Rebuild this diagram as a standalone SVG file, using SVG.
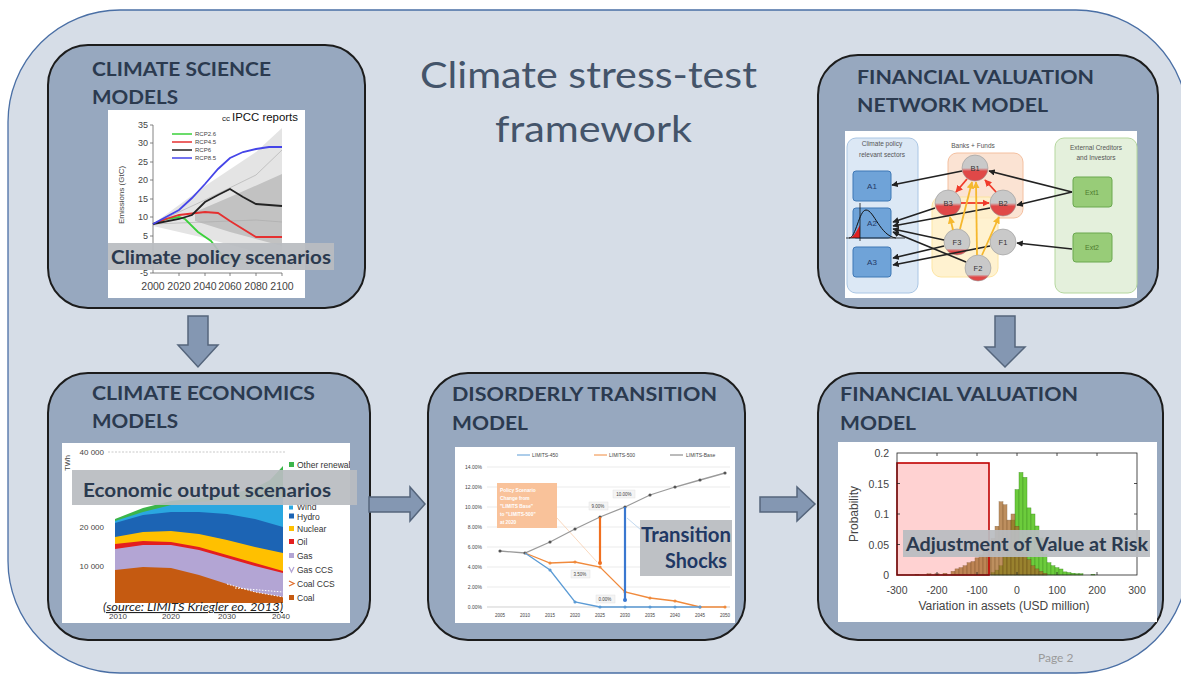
<svg xmlns="http://www.w3.org/2000/svg" width="1181" height="675" viewBox="0 0 1181 675">
<style>
.box{fill:#97a8bf;stroke:#1c1c1c;stroke-width:2}
.ttl{font-family:Lato,"Liberation Sans",sans-serif;font-weight:bold;font-size:19px;fill:#2b3a4f}
.big{font-family:Lato,"Liberation Sans",sans-serif;font-size:37px;fill:#44546a}
.img{fill:#ffffff}
.lbl{fill:#b9bcc1;opacity:0.93}
.lt{font-family:Lato,"Liberation Sans",sans-serif;font-weight:bold;font-size:19px;fill:#2b3a4f}
.blk{fill:#8497b2;stroke:#55657c;stroke-width:1.5}
.ax{font-family:"Liberation Sans",Arial,sans-serif;fill:#444}
.s6{font-size:6px}
.s9{font-size:9px}
.nt{font-family:"Liberation Sans",Arial,sans-serif;font-size:6.5px;fill:#555;text-anchor:middle}
.na{stroke:#222;stroke-width:1.6;fill:none;marker-end:url(#ak)}
.nr{stroke:#f03a2a;stroke-width:1.8;fill:none;marker-end:url(#ar)}
.no{stroke:#f5b82e;stroke-width:1.8;fill:none;marker-end:url(#ao)}
.ab{fill:#6fa3d8;stroke:#3f78b5;stroke-width:1}
.eb{fill:#98cc78;stroke:#6aa84f;stroke-width:1}
.bt{font-family:"Liberation Sans",Arial,sans-serif;font-size:8px;fill:#1f3864;text-anchor:middle}
.et{font-family:"Liberation Sans",Arial,sans-serif;font-size:7px;fill:#4e7a2e;text-anchor:middle}
.ct{font-family:"Liberation Sans",Arial,sans-serif;font-size:7.5px;fill:#333;text-anchor:middle}
.g{stroke:#e3e3e3;stroke-width:0.7}
.gb{fill:#6ccc3c;stroke:#3f8a22;stroke-width:0.4}
.bb{fill:#a86a2a;opacity:0.75;stroke:#6b4215;stroke-width:0.4}
.leg{font-family:"Liberation Sans",Arial,sans-serif;font-size:8.5px;fill:#333}
</style>
<defs>
<marker id="ak" viewBox="0 0 10 10" refX="9" refY="5" markerWidth="4" markerHeight="4" orient="auto"><path d="M0,0 L10,5 L0,10 z" fill="#222"/></marker>
<marker id="ar" viewBox="0 0 10 10" refX="9" refY="5" markerWidth="4" markerHeight="4" orient="auto"><path d="M0,0 L10,5 L0,10 z" fill="#f03a2a"/></marker>
<marker id="ao" viewBox="0 0 10 10" refX="9" refY="5" markerWidth="4" markerHeight="4" orient="auto"><path d="M0,0 L10,5 L0,10 z" fill="#f5b82e"/></marker>
<marker id="mk" viewBox="0 0 10 10" refX="5" refY="5" markerWidth="3" markerHeight="3"><circle cx="5" cy="5" r="4" fill="#555"/></marker>
<marker id="mo" viewBox="0 0 10 10" refX="5" refY="5" markerWidth="3" markerHeight="3"><circle cx="5" cy="5" r="4" fill="#f08a3c"/></marker>
<marker id="mb" viewBox="0 0 10 10" refX="5" refY="5" markerWidth="3" markerHeight="3"><circle cx="5" cy="5" r="4" fill="#5b9bd5"/></marker>
<linearGradient id="gB" x1="0" y1="0" x2="0" y2="1"><stop offset="0" stop-color="#c9c9c9"/><stop offset="0.5" stop-color="#c9c9c9"/><stop offset="0.62" stop-color="#e04848"/><stop offset="1" stop-color="#e04848"/></linearGradient>
<linearGradient id="gF" x1="0" y1="0" x2="0" y2="1"><stop offset="0" stop-color="#c9c9c9"/><stop offset="0.75" stop-color="#c9c9c9"/><stop offset="0.85" stop-color="#e04848"/><stop offset="1" stop-color="#e04848"/></linearGradient>
<clipPath id="ecoClip"><rect x="62" y="443" width="288" height="180"/></clipPath>
</defs>

<rect id="frame" x="8" y="10" width="1180" height="663" rx="112" ry="112" fill="#d6dde7" stroke="#4a6fa5" stroke-width="1.3"/>

<g id="title">
<text class="big" x="420" y="88" textLength="337" lengthAdjust="spacingAndGlyphs">Climate stress-test</text>
<text class="big" x="495" y="142" textLength="197" lengthAdjust="spacingAndGlyphs">framework</text>
</g>

<!-- Climate science models -->
<g id="climate-science">
<rect class="box" x="48" y="45" width="317" height="263" rx="40"/>
<text class="ttl" x="92" y="76" textLength="179" lengthAdjust="spacingAndGlyphs">CLIMATE SCIENCE</text>
<text class="ttl" x="92" y="104" textLength="86" lengthAdjust="spacingAndGlyphs">MODELS</text>
<rect class="img" x="108" y="110" width="197" height="188"/>
<polygon points="153,224 205,186 256,152 282,128 282,258 256,252 205,238 153,226" fill="#e4e4e4"/>
<polygon points="195,212 230,197 282,174 282,246 230,232 195,221" fill="#c2c2c2"/>
<polyline points="153,224 205,200 256,175 282,150" fill="none" stroke="#aaa" stroke-width="0.6"/>
<polyline points="153,224 205,222 256,220 282,222" fill="none" stroke="#aaa" stroke-width="0.6"/>
<line x1="153" y1="125" x2="153" y2="273" stroke="#666" stroke-width="0.8"/>
<line x1="153" y1="273" x2="282" y2="273" stroke="#666" stroke-width="0.8"/>
<g stroke="#666" stroke-width="0.8">
<line x1="150" y1="125" x2="153" y2="125"/><line x1="150" y1="143" x2="153" y2="143"/><line x1="150" y1="162" x2="153" y2="162"/><line x1="150" y1="180" x2="153" y2="180"/><line x1="150" y1="199" x2="153" y2="199"/><line x1="150" y1="217" x2="153" y2="217"/><line x1="150" y1="236" x2="153" y2="236"/><line x1="150" y1="273" x2="153" y2="273"/>
<line x1="179" y1="273" x2="179" y2="276"/><line x1="205" y1="273" x2="205" y2="276"/><line x1="230" y1="273" x2="230" y2="276"/><line x1="256" y1="273" x2="256" y2="276"/><line x1="282" y1="273" x2="282" y2="276"/>
</g>
<g class="ax s9" text-anchor="end">
<text x="148" y="128">35</text><text x="148" y="146">30</text><text x="148" y="165">25</text><text x="148" y="183">20</text><text x="148" y="202">15</text><text x="148" y="220">10</text><text x="148" y="239">5</text><text x="148" y="276">-5</text>
</g>
<g class="ax" font-size="10.5" text-anchor="middle">
<text x="153" y="290">2000</text><text x="179" y="290">2020</text><text x="205" y="290">2040</text><text x="230" y="290">2060</text><text x="256" y="290">2080</text><text x="282" y="290">2100</text>
</g>
<text class="ax" font-size="8" text-anchor="middle" transform="translate(124,195) rotate(-90)">Emissions (GtC)</text>
<polyline points="153,224 166,219 179,217 185,219 198,232 211,241 224,258 243,259" fill="none" stroke="#3ad13a" stroke-width="1.8"/>
<polyline points="153,224 166,219 179,215 205,212 218,213 230,221 256,237 282,237" fill="none" stroke="#e53030" stroke-width="1.8"/>
<polyline points="153,224 179,219 192,215 205,202 218,195 230,189 243,197 256,204 269,205 282,206" fill="none" stroke="#222" stroke-width="1.8"/>
<polyline points="153,224 179,210 192,198 205,184 218,169 230,158 243,152 256,149 269,147 282,147" fill="none" stroke="#4545e8" stroke-width="1.8"/>
<line x1="172" y1="134" x2="192" y2="134" stroke="#3ad13a" stroke-width="1.5"/>
<line x1="172" y1="142" x2="192" y2="142" stroke="#e53030" stroke-width="1.5"/>
<line x1="172" y1="150" x2="192" y2="150" stroke="#222" stroke-width="1.5"/>
<line x1="172" y1="158" x2="192" y2="158" stroke="#4545e8" stroke-width="1.5"/>
<g class="ax s6">
<text x="195" y="136">RCP2.6</text><text x="195" y="144">RCP4.5</text><text x="195" y="152">RCP6</text><text x="195" y="160">RCP8.5</text>
</g>
<text x="222" y="121" font-family="'Liberation Sans',Arial,sans-serif" font-size="8" fill="#222">cc</text>
<text x="232" y="121" font-family="'Liberation Sans',Arial,sans-serif" font-size="11" fill="#111" textLength="66" lengthAdjust="spacingAndGlyphs">IPCC reports</text>
<rect class="lbl" x="108" y="243" width="226" height="27"/>
<text class="lt" x="111" y="264" textLength="220" lengthAdjust="spacingAndGlyphs">Climate policy scenarios</text>
</g>

<!-- Financial valuation network model -->
<g id="financial-network">
<rect class="box" x="818" y="55" width="340" height="253" rx="40"/>
<text class="ttl" x="857" y="84" textLength="237" lengthAdjust="spacingAndGlyphs">FINANCIAL VALUATION</text>
<text class="ttl" x="857" y="112" textLength="191" lengthAdjust="spacingAndGlyphs">NETWORK MODEL</text>
<rect class="img" x="845" y="131" width="292" height="167"/>
<rect x="847" y="138" width="71" height="155" rx="9" fill="#dce8f5" stroke="#aac6e4"/>
<rect x="948" y="153" width="75" height="65" rx="9" fill="#fbe3d3" stroke="#f4c0a0"/>
<rect x="932" y="197" width="66" height="80" rx="9" fill="#fff1cc" stroke="#fde39a" opacity="0.9"/>
<rect x="1055" y="138" width="82" height="155" rx="9" fill="#e4f0dc" stroke="#b5d79e"/>
<text class="nt" x="882" y="146">Climate policy</text>
<text class="nt" x="882" y="157">relevant sectors</text>
<text class="nt" x="973" y="148">Banks + Funds</text>
<text class="nt" x="1096" y="150">External Creditors</text>
<text class="nt" x="1096" y="160">and Investors</text>
<rect class="ab" x="853" y="171" width="38" height="30" rx="3"/>
<rect class="ab" x="853" y="208" width="38" height="30" rx="3"/>
<rect class="ab" x="853" y="247" width="38" height="30" rx="3"/>
<rect class="eb" x="1073" y="177" width="39" height="30" rx="3"/>
<rect class="eb" x="1073" y="233" width="39" height="29" rx="3"/>
<text class="bt" x="872" y="189">A1</text>
<text class="bt" x="872" y="226">A2</text>
<text class="bt" x="872" y="265">A3</text>
<text class="et" x="1092" y="195">Ext1</text>
<text class="et" x="1092" y="250">Ext2</text>
<path d="M849,238 C856,238 859,210 866,210 C874,210 880,236 896,238" fill="none" stroke="#111" stroke-width="1"/>
<path d="M849,238 C853,238 856,232 860,225 L860,238 Z" fill="#e02020"/>
<line x1="860" y1="203" x2="860" y2="241" stroke="#111" stroke-width="0.8"/>
<line x1="846" y1="238" x2="905" y2="238" stroke="#111" stroke-width="0.8"/>
<circle cx="975" cy="168" r="13" fill="url(#gB)" stroke="#999" stroke-width="0.6"/>
<circle cx="948" cy="203" r="13" fill="url(#gB)" stroke="#999" stroke-width="0.6"/>
<circle cx="1003" cy="203" r="13" fill="url(#gB)" stroke="#999" stroke-width="0.6"/>
<circle cx="957" cy="242" r="13" fill="url(#gF)" stroke="#999" stroke-width="0.6"/>
<circle cx="1003" cy="242" r="13" fill="#c9c9c9" stroke="#999" stroke-width="0.6"/>
<circle cx="978" cy="268" r="13" fill="url(#gF)" stroke="#999" stroke-width="0.6"/>
<text class="ct" x="975" y="171">B1</text>
<text class="ct" x="948" y="206">B3</text>
<text class="ct" x="1003" y="206">B2</text>
<text class="ct" x="957" y="245">F3</text>
<text class="ct" x="1003" y="245">F1</text>
<text class="ct" x="978" y="271">F2</text>
<line class="na" x1="962" y1="171" x2="892" y2="185"/>
<line class="na" x1="1072" y1="192" x2="989" y2="171"/>
<line class="na" x1="1072" y1="192" x2="1017" y2="205"/>
<line class="na" x1="1072" y1="249" x2="1017" y2="243"/>
<line class="na" x1="935" y1="208" x2="893" y2="222"/>
<line class="na" x1="990" y1="208" x2="893" y2="226"/>
<line class="na" x1="944" y1="240" x2="893" y2="229"/>
<line class="na" x1="966" y1="262" x2="893" y2="232"/>
<line class="na" x1="944" y1="246" x2="893" y2="258"/>
<line class="na" x1="990" y1="246" x2="893" y2="265"/>
<line class="nr" x1="967" y1="179" x2="956" y2="192"/>
<line class="nr" x1="996" y1="192" x2="985" y2="180"/>
<line class="nr" x1="961" y1="203" x2="989" y2="203"/>
<line class="no" x1="953" y1="230" x2="950" y2="217"/>
<line class="no" x1="960" y1="229" x2="972" y2="182"/>
<line class="no" x1="977" y1="255" x2="976" y2="182"/>
<line class="no" x1="982" y1="255" x2="999" y2="217"/>
</g>

<!-- Climate economics models -->
<g id="climate-economics">
<rect class="box" x="48" y="373" width="322" height="267" rx="40"/>
<text class="ttl" x="92" y="400" textLength="223" lengthAdjust="spacingAndGlyphs">CLIMATE ECONOMICS</text>
<text class="ttl" x="92" y="428" textLength="86" lengthAdjust="spacingAndGlyphs">MODELS</text>
<rect class="img" x="62" y="443" width="288" height="180"/>
<line x1="108" y1="452" x2="285" y2="452" stroke="#bbb" stroke-width="0.8" stroke-dasharray="2,1.5"/>
<g class="ax" font-size="8" text-anchor="end">
<text x="104" y="455">40 000</text><text x="104" y="530">20 000</text><text x="104" y="569">10 000</text>
</g>
<text class="ax" font-size="7.5" text-anchor="middle" transform="translate(70,463) rotate(-90)">TWh</text>
<path d="M115,519 L143,508 L171,501 L199,498 L227,495 L255,488 L270,480 L283,466 L283,603 L115,603 Z" fill="#3cb54a"/>
<path d="M115,521 L143,512 L171,505 L199,502 L227,500 L255,499 L283,498 L283,603 L115,603 Z" fill="#2aa7e0"/>
<path d="M115,523 L143,515 L171,512 L199,512 L227,514 L255,519 L283,527 L283,603 L115,603 Z" fill="#1c64b4"/>
<path d="M115,537 L143,532 L171,531 L199,534 L227,540 L255,547 L283,553 L283,603 L115,603 Z" fill="#ffc000"/>
<path d="M115,544 L143,541 L171,542 L199,547 L227,555 L255,563 L283,571 L283,603 L115,603 Z" fill="#e41e1e"/>
<path d="M115,549 L143,545 L171,545 L199,550 L227,558 L255,566 L283,573 L283,603 L115,603 Z" fill="#b3a5d4"/>
<path d="M115,570 L143,567 L171,568 L199,575 L227,584 L255,592 L283,597 L283,603 L115,603 Z" fill="#c55a11"/>
<path d="M227,584 L255,592 L283,597 M235,588 L283,592" fill="none" stroke="#ffffff" stroke-width="1" stroke-dasharray="1.5,1.5"/>
<g class="ax" font-size="8" text-anchor="middle" fill="#888">
<text x="118" y="619">2010</text><text x="171" y="619">2020</text><text x="227" y="619">2030</text><text x="281" y="619">2040</text>
</g>
<g clip-path="url(#ecoClip)">
<rect x="289" y="462" width="5" height="5" fill="#3cb54a"/><text class="leg" x="297" y="468" font-size="8">Other renewables</text>
</g>
<rect x="289" y="505.5" width="4" height="4" fill="#2aa7e0"/><text class="leg" x="297" y="509.5" font-size="5.5">Wind</text>
<rect x="289" y="513.5" width="5" height="5" fill="#1c64b4"/><text class="leg" x="297" y="519.5">Hydro</text>
<rect x="289" y="526" width="5" height="5" fill="#ffc000"/><text class="leg" x="297" y="532">Nuclear</text>
<rect x="289" y="539" width="5" height="5" fill="#e41e1e"/><text class="leg" x="297" y="545">Oil</text>
<rect x="289" y="553" width="5" height="5" fill="#b3a5d4"/><text class="leg" x="297" y="559">Gas</text>
<path d="M289,567 L291.5,572 L294,567" fill="none" stroke="#b3a5d4" stroke-width="1.3"/><text class="leg" x="297" y="573">Gas CCS</text>
<path d="M289,581 L294,583.5 L289,586" fill="none" stroke="#e07030" stroke-width="1.3"/><text class="leg" x="297" y="587">Coal CCS</text>
<rect x="289" y="595" width="5" height="5" fill="#c55a11"/><text class="leg" x="297" y="601">Coal</text>
<rect class="lbl" x="72" y="470" width="285" height="35"/>
<text class="lt" x="83" y="497" font-size="20" textLength="248" lengthAdjust="spacingAndGlyphs">Economic output scenarios</text>
<text x="103" y="611" font-family="Lato,'Liberation Sans',sans-serif" font-style="italic" font-size="11" fill="#222" text-decoration="underline" textLength="180" lengthAdjust="spacingAndGlyphs">(source: LIMITS Kriegler eo. 2013)</text>
</g>

<!-- Disorderly transition model -->
<g id="disorderly-transition">
<rect class="box" x="428" y="373" width="317" height="267" rx="40"/>
<text class="ttl" x="452" y="401" textLength="265" lengthAdjust="spacingAndGlyphs">DISORDERLY TRANSITION</text>
<text class="ttl" x="452" y="430" textLength="76" lengthAdjust="spacingAndGlyphs">MODEL</text>
<rect class="img" x="455" y="447" width="280" height="176"/>
<g class="g">
<line x1="487" y1="467" x2="730" y2="467"/><line x1="487" y1="487" x2="730" y2="487"/><line x1="487" y1="507" x2="730" y2="507"/><line x1="487" y1="527" x2="730" y2="527"/><line x1="487" y1="547" x2="730" y2="547"/><line x1="487" y1="567" x2="730" y2="567"/><line x1="487" y1="587" x2="730" y2="587"/>
</g>
<line x1="487" y1="607" x2="730" y2="607" stroke="#bbb" stroke-width="0.7"/>
<g class="ax" font-size="5" text-anchor="end" fill="#777">
<text x="482" y="469">14.00%</text><text x="482" y="489">12.00%</text><text x="482" y="509">10.00%</text><text x="482" y="529">8.00%</text><text x="482" y="549">6.00%</text><text x="482" y="569">4.00%</text><text x="482" y="589">2.00%</text><text x="482" y="609">0.00%</text>
</g>
<g class="ax" font-size="4.5" text-anchor="middle" fill="#777">
<text x="500" y="617">2005</text><text x="525" y="617">2010</text><text x="550" y="617">2015</text><text x="575" y="617">2020</text><text x="600" y="617">2025</text><text x="625" y="617">2030</text><text x="650" y="617">2035</text><text x="675" y="617">2040</text><text x="700" y="617">2045</text><text x="725" y="617">2050</text>
</g>
<line x1="517" y1="455" x2="530" y2="455" stroke="#5b9bd5" stroke-width="1"/><text class="ax" font-size="5" fill="#777" x="532" y="457">LIMITS-450</text>
<line x1="594" y1="455" x2="607" y2="455" stroke="#f08a3c" stroke-width="1"/><text class="ax" font-size="5" fill="#777" x="609" y="457">LIMITS-500</text>
<line x1="670" y1="455" x2="683" y2="455" stroke="#777" stroke-width="1"/><text class="ax" font-size="5" fill="#777" x="686" y="457">LIMITS-Base</text>
<line x1="557" y1="518" x2="597" y2="562" stroke="#f8c8a4" stroke-width="0.7"/>
<line x1="627" y1="518" x2="641" y2="530" stroke="#a8c8ea" stroke-width="0.7"/>
<polyline points="500,551 525,553 550,542 575,529 600,517 625,507 650,495 675,487 700,480 725,473" fill="none" stroke="#9a9a9a" stroke-width="1.3" marker-start="url(#mk)" marker-mid="url(#mk)" marker-end="url(#mk)"/>
<polyline points="525,553 550,563 575,562 600,567 625,592 650,598 675,601 700,607 725,607" fill="none" stroke="#f08a3c" stroke-width="1.3" marker-mid="url(#mo)" marker-end="url(#mo)"/>
<polyline points="525,553 550,570 575,602 600,607 625,607 650,607 675,607 700,607" fill="none" stroke="#5b9bd5" stroke-width="1.3" marker-mid="url(#mb)" marker-end="url(#mb)"/>
<line x1="600" y1="517" x2="600" y2="563" stroke="#f07020" stroke-width="2.2"/>
<circle cx="600" cy="563" r="2" fill="#f07020"/>
<line x1="625" y1="507" x2="625" y2="600" stroke="#3a78d0" stroke-width="2.2"/>
<circle cx="625" cy="600" r="2" fill="#3a78d0"/>
<g class="ax" font-size="4.5" text-anchor="middle" fill="#555">
<rect x="589" y="502" width="19" height="8" fill="#f4f4f4" stroke="#ddd" stroke-width="0.4"/><text x="598" y="508">9.00%</text>
<rect x="613" y="490" width="22" height="8" fill="#f4f4f4" stroke="#ddd" stroke-width="0.4"/><text x="624" y="496">10.00%</text>
<rect x="571" y="570" width="19" height="8" fill="#f4f4f4" stroke="#ddd" stroke-width="0.4"/><text x="580" y="576">3.50%</text>
<rect x="596" y="595" width="19" height="8" fill="#f4f4f4" stroke="#ddd" stroke-width="0.4"/><text x="605" y="601">0.00%</text>
</g>
<rect x="497" y="483" width="60" height="45" fill="#f9c29a"/>
<g font-family="'Liberation Sans',Arial,sans-serif" font-size="4.8" fill="#ffffff" font-weight="bold">
<text x="500" y="492">Policy Scenario</text><text x="500" y="500">Change from</text><text x="500" y="508">"LIMITS Base"</text><text x="500" y="516">to "LIMITS-500"</text><text x="500" y="524">at 2020</text>
</g>
<rect class="lbl" x="640" y="520" width="92" height="56"/>
<text x="731" y="542" text-anchor="end" font-family="Lato,'Liberation Sans',sans-serif" font-weight="bold" font-size="20" fill="#1f3864" textLength="90" lengthAdjust="spacingAndGlyphs">Transition</text>
<text x="727" y="568" text-anchor="end" font-family="Lato,'Liberation Sans',sans-serif" font-weight="bold" font-size="20" fill="#1f3864" textLength="62" lengthAdjust="spacingAndGlyphs">Shocks</text>
</g>

<!-- Financial valuation model -->
<g id="financial-valuation">
<rect class="box" x="818" y="373" width="345" height="267" rx="40"/>
<text class="ttl" x="840" y="401" textLength="238" lengthAdjust="spacingAndGlyphs">FINANCIAL VALUATION</text>
<text class="ttl" x="840" y="430" textLength="76" lengthAdjust="spacingAndGlyphs">MODEL</text>
<rect class="img" x="838" y="442" width="319" height="180"/>
<rect x="897" y="463" width="92" height="112" fill="#ffd2d2"/>
<g>
<rect class="gb" x="991" y="572.6" width="4" height="2.4"/>
<rect class="gb" x="995" y="570.1" width="4" height="4.9"/>
<rect class="gb" x="999" y="565.8" width="4" height="9.2"/>
<rect class="gb" x="1003" y="556.7" width="4" height="18.3"/>
<rect class="gb" x="1007" y="544.5" width="4" height="30.5"/>
<rect class="gb" x="1011" y="520.1" width="4" height="54.9"/>
<rect class="gb" x="1015" y="489.6" width="4" height="85.4"/>
<rect class="gb" x="1019" y="472.5" width="4" height="102.5"/>
<rect class="gb" x="1023" y="477.4" width="4" height="97.6"/>
<rect class="gb" x="1027" y="507.9" width="4" height="67.1"/>
<rect class="gb" x="1031" y="514" width="4" height="61"/>
<rect class="gb" x="1035" y="526" width="4" height="49"/>
<rect class="gb" x="1039" y="538" width="4" height="37"/>
<rect class="gb" x="1043" y="554" width="4" height="21"/>
<rect class="gb" x="1047" y="562.8" width="4" height="12.2"/>
<rect class="gb" x="1051" y="565.8" width="4" height="9.2"/>
<rect class="gb" x="1055" y="567.7" width="4" height="7.3"/>
<rect class="gb" x="1059" y="569" width="4" height="6"/>
<rect class="gb" x="1063" y="571.9" width="4" height="3.1"/>
<rect class="gb" x="1067" y="572.6" width="4" height="2.4"/>
<rect class="gb" x="1071" y="573.2" width="4" height="1.8"/>
<rect class="gb" x="1075" y="573.8" width="4" height="1.2"/>
<rect class="gb" x="1079" y="573.8" width="4" height="1.2"/>
<rect class="gb" x="1091" y="574.4" width="4" height="0.6"/>
</g>
<g>
<rect class="bb" x="915" y="574.4" width="4" height="0.6"/>
<rect class="bb" x="927" y="573.8" width="4" height="1.2"/>
<rect class="bb" x="935" y="573.8" width="4" height="1.2"/>
<rect class="bb" x="943" y="573.2" width="4" height="1.8"/>
<rect class="bb" x="951" y="571.3" width="4" height="3.7"/>
<rect class="bb" x="955" y="568.9" width="4" height="6.1"/>
<rect class="bb" x="959" y="567.7" width="4" height="7.3"/>
<rect class="bb" x="963" y="565.8" width="4" height="9.2"/>
<rect class="bb" x="967" y="562.8" width="4" height="12.2"/>
<rect class="bb" x="971" y="561.6" width="4" height="13.4"/>
<rect class="bb" x="975" y="557.9" width="4" height="17.1"/>
<rect class="bb" x="979" y="554.9" width="4" height="20.1"/>
<rect class="bb" x="983" y="550.6" width="4" height="24.4"/>
<rect class="bb" x="987" y="544.5" width="4" height="30.5"/>
<rect class="bb" x="991" y="538.4" width="4" height="36.6"/>
<rect class="bb" x="995" y="526.2" width="4" height="48.8"/>
<rect class="bb" x="999" y="501.8" width="4" height="73.2"/>
<rect class="bb" x="1003" y="504.8" width="4" height="70.2"/>
<rect class="bb" x="1007" y="520.1" width="4" height="54.9"/>
<rect class="bb" x="1011" y="514" width="4" height="61"/>
<rect class="bb" x="1015" y="526.2" width="4" height="48.8"/>
<rect class="bb" x="1019" y="544.5" width="4" height="30.5"/>
<rect class="bb" x="1023" y="553.6" width="4" height="21.4"/>
<rect class="bb" x="1027" y="559.7" width="4" height="15.3"/>
<rect class="bb" x="1031" y="565.8" width="4" height="9.2"/>
<rect class="bb" x="1035" y="568.9" width="4" height="6.1"/>
<rect class="bb" x="1039" y="571.3" width="4" height="3.7"/>
<rect class="bb" x="1043" y="573.2" width="4" height="1.8"/>
</g>
<rect x="897" y="463" width="92" height="112" fill="none" stroke="#c00000" stroke-width="1.6"/>
<rect x="897" y="453" width="240" height="122" fill="none" stroke="#222" stroke-width="0.8"/>
<g stroke="#222" stroke-width="0.8">
<line x1="937" y1="575" x2="937" y2="572"/><line x1="977" y1="575" x2="977" y2="572"/><line x1="1017" y1="575" x2="1017" y2="572"/><line x1="1057" y1="575" x2="1057" y2="572"/><line x1="1097" y1="575" x2="1097" y2="572"/>
<line x1="937" y1="453" x2="937" y2="456"/><line x1="977" y1="453" x2="977" y2="456"/><line x1="1017" y1="453" x2="1017" y2="456"/><line x1="1057" y1="453" x2="1057" y2="456"/><line x1="1097" y1="453" x2="1097" y2="456"/>
<line x1="897" y1="483.5" x2="900" y2="483.5"/><line x1="897" y1="514" x2="900" y2="514"/><line x1="897" y1="544.5" x2="900" y2="544.5"/>
<line x1="1137" y1="483.5" x2="1134" y2="483.5"/><line x1="1137" y1="514" x2="1134" y2="514"/><line x1="1137" y1="544.5" x2="1134" y2="544.5"/>
</g>
<g class="ax" font-size="10.5" text-anchor="end">
<text x="889" y="457">0.2</text><text x="889" y="488">0.15</text><text x="889" y="518">0.1</text><text x="889" y="549">0.05</text><text x="889" y="579">0</text>
</g>
<g class="ax" font-size="10.5" text-anchor="middle">
<text x="897" y="594">-300</text><text x="937" y="594">-200</text><text x="977" y="594">-100</text><text x="1017" y="594">0</text><text x="1057" y="594">100</text><text x="1097" y="594">200</text><text x="1137" y="594">300</text>
</g>
<text class="ax" font-size="12" text-anchor="middle" transform="translate(858,514) rotate(-90)">Probability</text>
<text class="ax" font-size="12" text-anchor="middle" x="1004" y="610">Variation in assets (USD million)</text>
<rect class="lbl" x="903" y="530" width="247" height="27"/>
<text class="lt" x="906" y="551" textLength="242" lengthAdjust="spacingAndGlyphs">Adjustment of Value at Risk</text>
</g>

<g id="connectors">
<polygon class="blk" points="188,316 208,316 208,345 218,345 198,367 178,345 188,345"/>
<polygon class="blk" points="995,316 1015,316 1015,347 1025,347 1005,367 985,347 995,347"/>
<polygon class="blk" points="369,497 410,497 410,487 425,504 410,521 410,512 369,512"/>
<polygon class="blk" points="760,497 797,497 797,487 815,504 797,521 797,512 760,512"/>
</g>

<text id="page" x="1038" y="662" font-family="Lato,'Liberation Sans',sans-serif" font-size="12" fill="#9a9a9a">Page 2</text>
</svg>
